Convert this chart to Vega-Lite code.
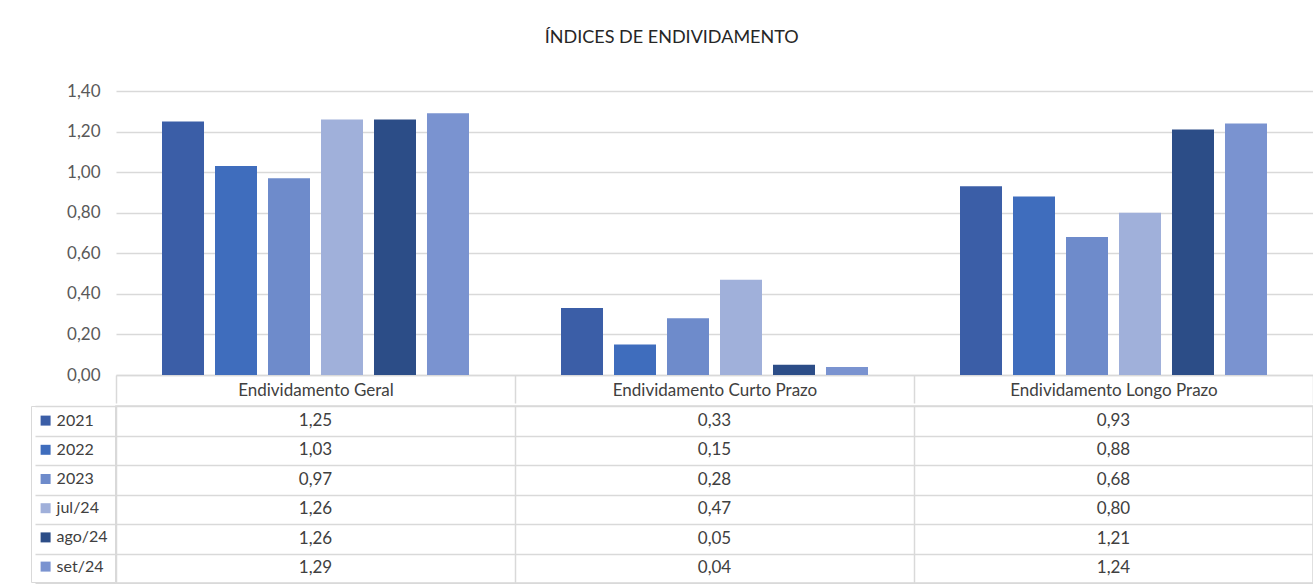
{
  "$schema": "https://vega.github.io/schema/vega-lite/v6.json",
  "padding": {"left": 29, "top": 29, "right": 0, "bottom": 0},
  "background": "white",
  "title": {"text": "ÍNDICES DE ENDIVIDAMENTO", "font": "Lato", "fontSize": 18, "fontWeight": "normal", "color": "#262626", "anchor": "middle", "baseline": "alphabetic", "offset": 21},
  "config": {
    "font": "Lato",
    "locale": {"number": {"decimal": ",", "thousands": ".", "grouping": [3], "currency": ["R$", ""]}},
    "view": {"stroke": null}
  },
  "datasets": {
    "d": [
      {"cat": "Endividamento Geral", "serie": "2021", "v": 1.25},
      {"cat": "Endividamento Geral", "serie": "2022", "v": 1.03},
      {"cat": "Endividamento Geral", "serie": "2023", "v": 0.97},
      {"cat": "Endividamento Geral", "serie": "jul/24", "v": 1.26},
      {"cat": "Endividamento Geral", "serie": "ago/24", "v": 1.26},
      {"cat": "Endividamento Geral", "serie": "set/24", "v": 1.29},
      {"cat": "Endividamento Curto Prazo", "serie": "2021", "v": 0.33},
      {"cat": "Endividamento Curto Prazo", "serie": "2022", "v": 0.15},
      {"cat": "Endividamento Curto Prazo", "serie": "2023", "v": 0.28},
      {"cat": "Endividamento Curto Prazo", "serie": "jul/24", "v": 0.47},
      {"cat": "Endividamento Curto Prazo", "serie": "ago/24", "v": 0.05},
      {"cat": "Endividamento Curto Prazo", "serie": "set/24", "v": 0.04},
      {"cat": "Endividamento Longo Prazo", "serie": "2021", "v": 0.93},
      {"cat": "Endividamento Longo Prazo", "serie": "2022", "v": 0.88},
      {"cat": "Endividamento Longo Prazo", "serie": "2023", "v": 0.68},
      {"cat": "Endividamento Longo Prazo", "serie": "jul/24", "v": 0.80},
      {"cat": "Endividamento Longo Prazo", "serie": "ago/24", "v": 1.21},
      {"cat": "Endividamento Longo Prazo", "serie": "set/24", "v": 1.24}
    ]
  },
  "spacing": 0,
  "resolve": {"scale": {"color": "independent"}, "legend": {"color": "independent"}},
  "vconcat": [
    {
      "width": 1197,
      "height": 284,
      "data": {"name": "d"},
      "view": {"stroke": null},
      "mark": {"type": "bar"},
      "encoding": {
        "x": {"field": "cat", "type": "nominal", "sort": ["Endividamento Geral", "Endividamento Curto Prazo", "Endividamento Longo Prazo"],
          "scale": {"paddingInner": 0, "paddingOuter": 0},
          "axis": {"title": null, "orient": "bottom", "labelAngle": 0, "domainColor": "#d9d9d9", "domainWidth": 1.5, "tickBand": "extent", "ticks": true, "tickSize": 28, "tickColor": "#d9d9d9", "tickWidth": 1.5, "labelPadding": -21, "labelFontSize": 17, "labelLimit": 0, "labelColor": "#404040", "labelBaseline": "top", "grid": false}},
        "xOffset": {"field": "serie", "type": "nominal", "sort": ["2021", "2022", "2023", "jul/24", "ago/24", "set/24"],
          "scale": {"paddingInner": 0.2075, "paddingOuter": 0.868}},
        "y": {"field": "v", "type": "quantitative", "scale": {"domain": [0, 1.4], "nice": false},
          "axis": {"title": null, "values": [0, 0.2, 0.4, 0.6, 0.8, 1.0, 1.2, 1.4], "format": ".2f", "domain": false, "ticks": false, "gridColor": "#d9d9d9", "gridWidth": 1.5, "labelPadding": 16, "labelFontSize": 17, "labelColor": "#595959"}},
        "color": {"field": "serie", "type": "nominal", "sort": ["2021", "2022", "2023", "jul/24", "ago/24", "set/24"],
          "scale": {"domain": ["2021", "2022", "2023", "jul/24", "ago/24", "set/24"], "range": ["#3b5ea7", "#3f6dbd", "#6e8bcb", "#a0b0da", "#2c4d87", "#7a93d0"]},
          "legend": null}
      }
    },
    {
      "width": 1197,
      "height": 177,
      "data": {"name": "d"},
      "view": {"stroke": "#d9d9d9", "strokeWidth": 1.5},
      "encoding": {
        "x": {"field": "cat", "type": "nominal", "sort": ["Endividamento Geral", "Endividamento Curto Prazo", "Endividamento Longo Prazo"],
          "scale": {"paddingInner": 0, "paddingOuter": 0},
          "axis": {"orient": "top", "title": null, "labels": false, "ticks": false, "domain": false, "grid": true, "tickBand": "extent", "gridColor": "#d9d9d9", "gridWidth": 1.5}},
        "y": {"field": "serie", "type": "nominal", "sort": ["2021", "2022", "2023", "jul/24", "ago/24", "set/24"],
          "scale": {"paddingInner": 0, "paddingOuter": 0},
          "axis": {"title": null, "labels": false, "domain": false, "grid": true, "tickBand": "extent", "ticks": true, "tickSize": 81, "tickColor": "#d9d9d9", "tickWidth": 1.5, "gridColor": "#d9d9d9", "gridWidth": 1.5}}
      },
      "layer": [
        {
          "mark": {"type": "rect", "opacity": 0},
          "encoding": {
            "color": {"field": "serie", "type": "nominal", "sort": ["2021", "2022", "2023", "jul/24", "ago/24", "set/24"],
              "scale": {"domain": ["2021", "2022", "2023", "jul/24", "ago/24", "set/24"], "range": ["#3b5ea7", "#3f6dbd", "#6e8bcb", "#a0b0da", "#2c4d87", "#7a93d0"]},
              "legend": {"orient": "left", "title": null, "symbolType": "square", "symbolSize": 100, "symbolOpacity": 1, "symbolStrokeWidth": 0, "labelFontSize": 16, "labelColor": "#404040", "labelOffset": 3, "rowPadding": 13.2, "padding": 6.6, "strokeColor": "#d9d9d9", "offset": -81}}
          }
        },
        {
          "mark": {"type": "text", "fontSize": 17, "color": "#404040"},
          "encoding": {"text": {"field": "v", "type": "quantitative", "format": ".2f"}}
        }
      ]
    }
  ]
}
